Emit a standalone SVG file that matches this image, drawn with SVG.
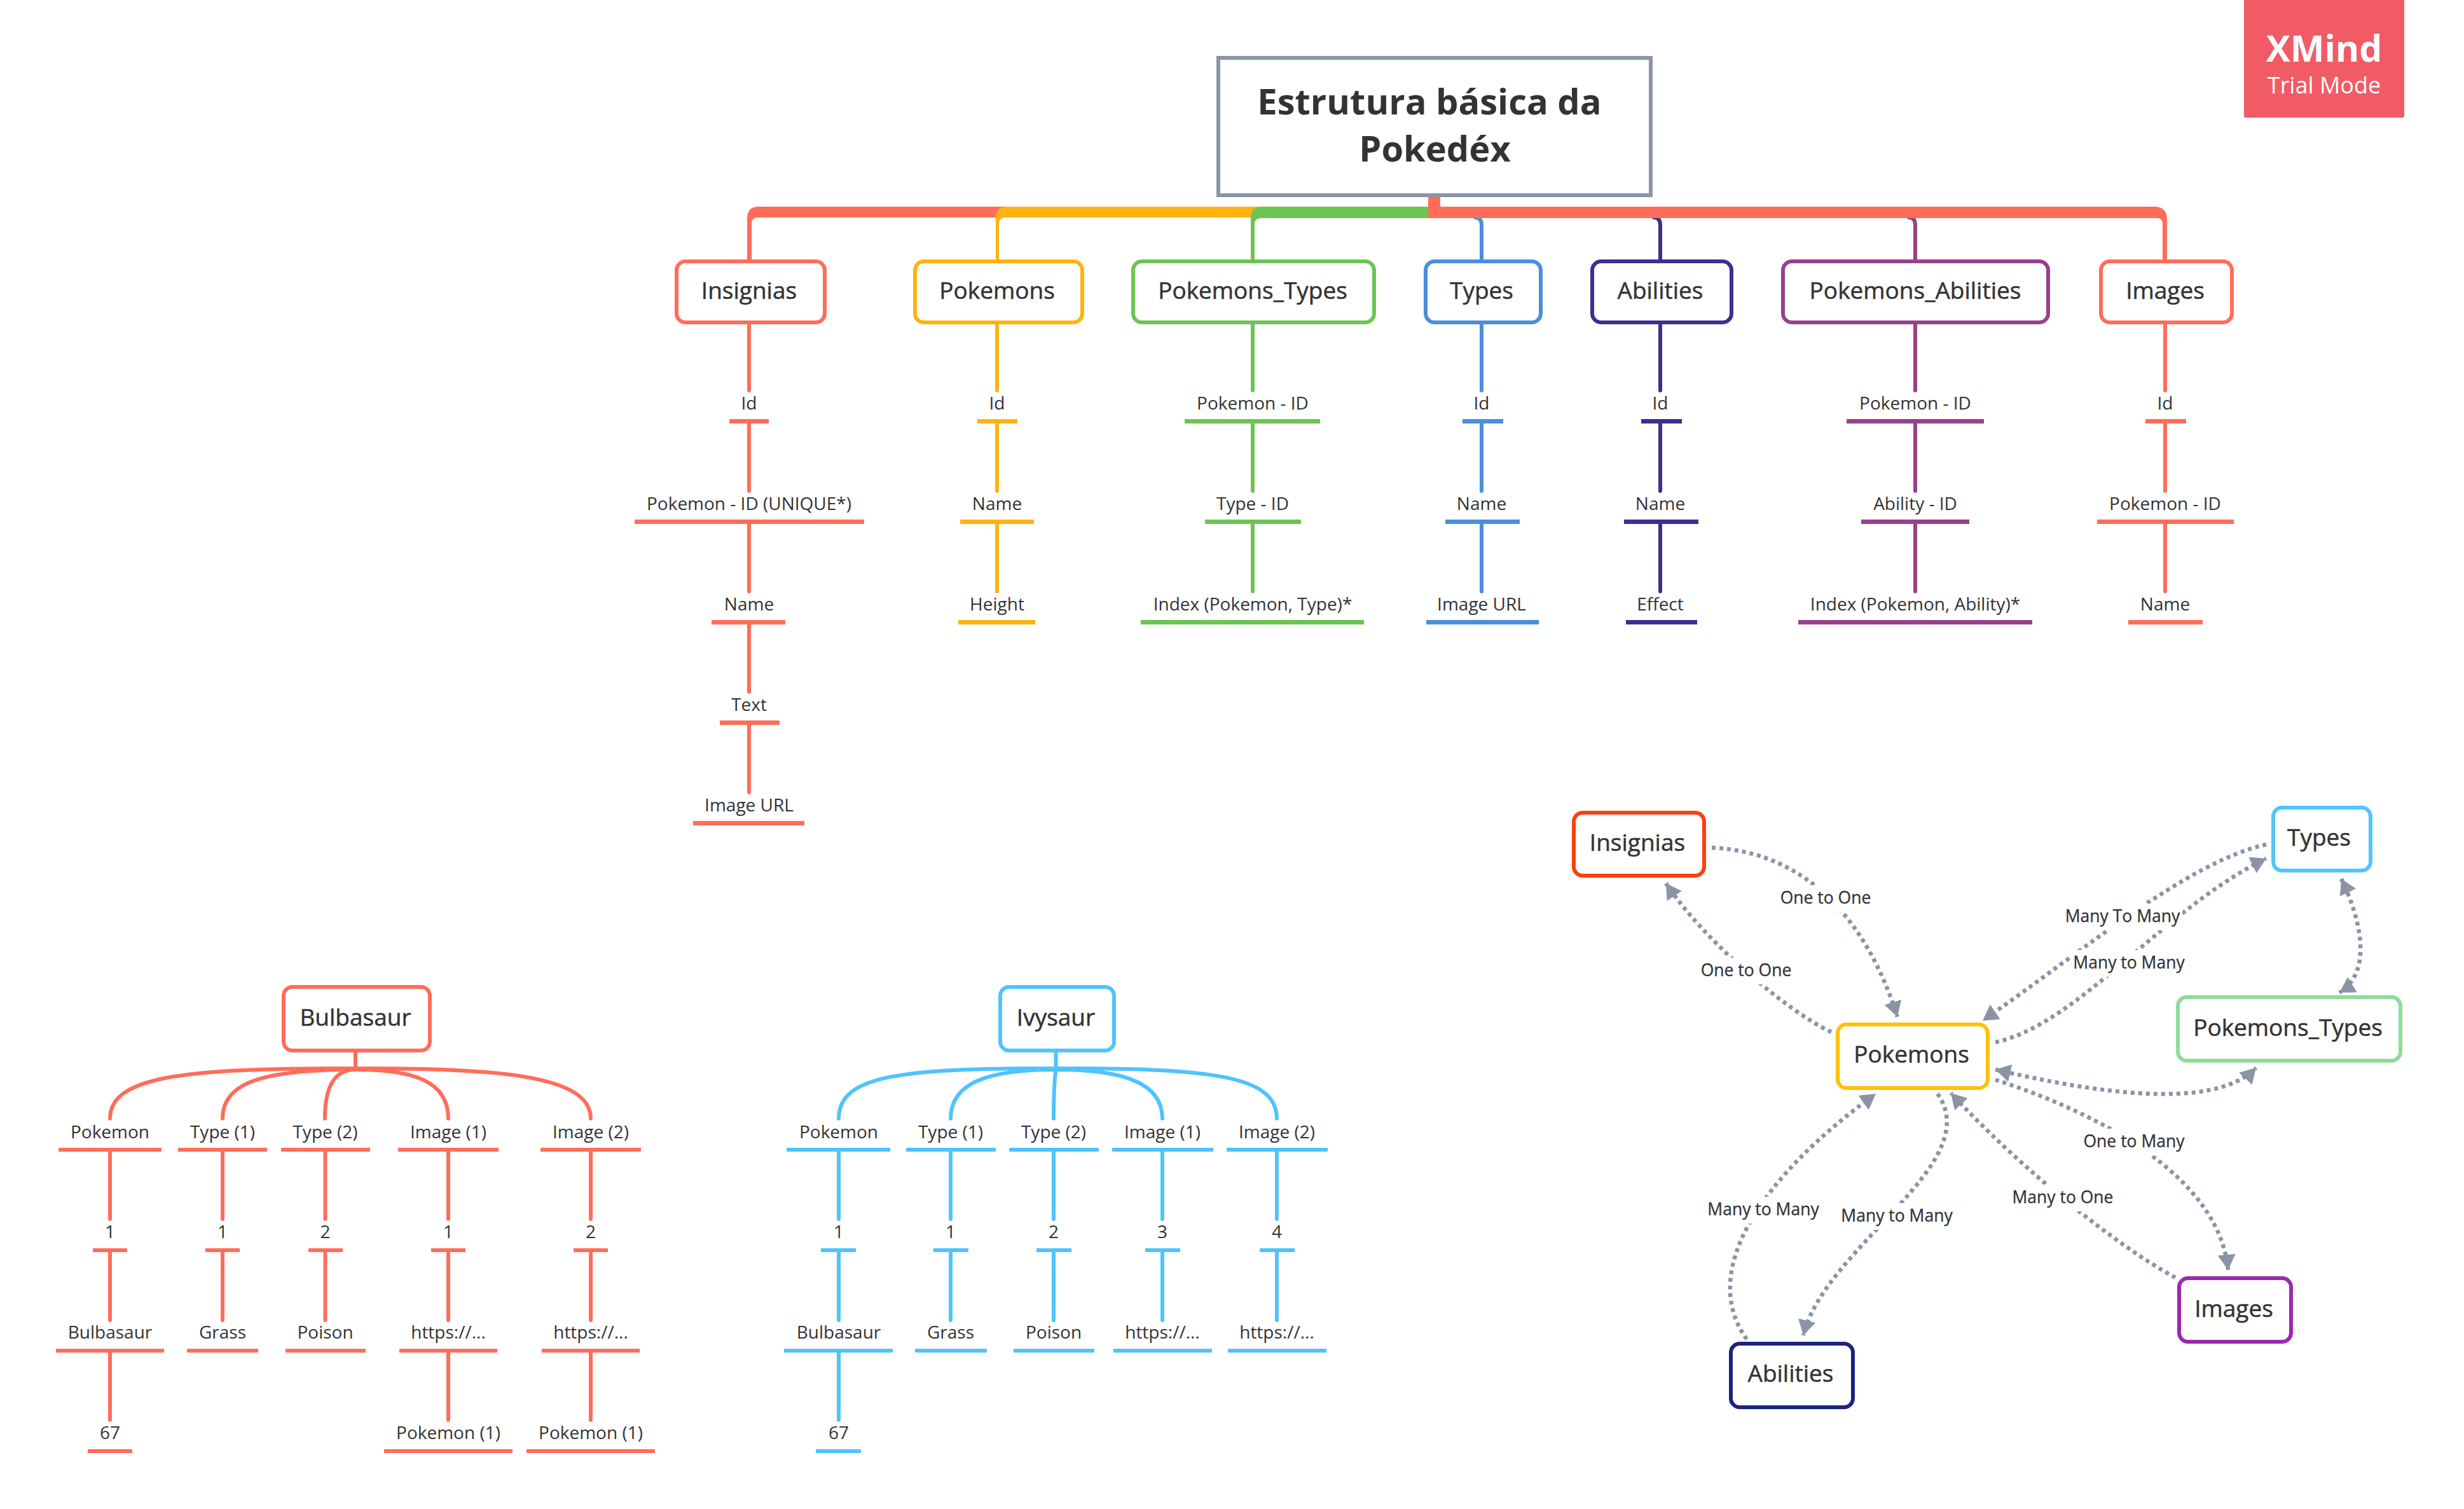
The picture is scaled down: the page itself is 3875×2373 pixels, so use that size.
<svg xmlns="http://www.w3.org/2000/svg" width="3875" height="2373" viewBox="0 0 3875 2373">
<style>
text{font-family:"Open Sans","Noto Sans","Liberation Sans",sans-serif;fill:#333;text-anchor:middle}
.t{font-size:37px;stroke:#333;stroke-width:.5px}
.l{font-size:28px}
.e{font-size:26.500px;stroke:#333;stroke-width:.3px}
.box{fill:#fff;stroke-width:6}
.v{fill:none;stroke-width:6;stroke-linecap:round}
.rel{fill:none;stroke:#8a94a6;stroke-width:6.500;stroke-dasharray:6 6}
.mask{fill:#fff}
.red{stroke:#ff6d5a}.fred{fill:#ff6d5a}
.org{stroke:#ffb30f}.forg{fill:#ffb30f}
.grn{stroke:#6cc551}.fgrn{fill:#6cc551}
.blu{stroke:#4a8fdb}.fblu{fill:#4a8fdb}
.nav{stroke:#3f2e91}.fnav{fill:#3f2e91}
.pur{stroke:#96418c}.fpur{fill:#96418c}
.sky{stroke:#4fc3fc}.fsky{fill:#4fc3fc}
</style>
<defs>
<marker id="arr" markerUnits="userSpaceOnUse" markerWidth="26" markerHeight="30" refX="24" refY="14" orient="auto-start-reverse"><path d="M0 0L24 14L0 28Z" fill="#8a94a6"/></marker>
</defs>

<g id="connectors">
<path class="fred" d="M1175 408V344Q1175 325 1192 325H1600V342H1192Q1182 342 1182 352V408Z"/>
<path class="forg" d="M1566 408V344Q1566 325 1583 325H1990V342H1581Q1571 342 1571 352V408Z"/>
<path class="fgrn" d="M1967 408V344Q1967 325 1984 325H2256V343H1983Q1973 343 1973 353V408Z"/>
<path class="v blu" d="M2320 342Q2330 342 2330 354V408"/>
<path class="v nav" d="M2601 342Q2611 342 2611 354V408"/>
<path class="v pur" d="M3002 342Q3012 342 3012 354V408"/>
<path class="fred" d="M2246 310H2265V325H3388Q3408 325 3408 345V408H3401V352Q3401 343 3392 343H2246Z"/>
<path class="v red" d="M1178 510V614M1178 666V772M1178 824V930M1178 982V1088M1178 1140V1246"/>
<path class="v org" d="M1568 510V614M1568 666V772M1568 824V930"/>
<path class="v grn" d="M1970 510V614M1970 666V772M1970 824V930"/>
<path class="v blu" d="M2330 510V614M2330 666V772M2330 824V930"/>
<path class="v nav" d="M2611 510V614M2611 666V772M2611 824V930"/>
<path class="v pur" d="M3012 510V614M3012 666V772M3012 824V930"/>
<path class="v red" d="M3405 510V614M3405 666V772M3405 824V930"/>
<path class="v red" d="M559 1655V1680M559 1680C300 1680 173 1690 173 1759M559 1682C420 1682 350 1700 350 1759M559 1682C525 1682 511 1710 511 1759M559 1682C650 1682 705 1700 705 1759M559 1680C780 1680 929 1690 929 1759"/>
<path class="v red" d="M173 1810V1917M173 1968V2076M173 2126V2233M350 1810V1917M350 1968V2076M511.500 1810V1917M511.500 1968V2076M705 1810V1917M705 1968V2076M705 2126V2233M929 1810V1917M929 1968V2076M929 2126V2233"/>
<path class="v sky" d="M1660.500 1655V1680M1660.500 1680C1420 1680 1319 1690 1319 1759M1660.500 1682C1560 1682 1495 1700 1495 1759M1660.500 1682C1658 1700 1657 1730 1657 1759M1660.500 1682C1760 1682 1828 1700 1828 1759M1660.500 1680C1900 1680 2008 1690 2008 1759"/>
<path class="v sky" d="M1319 1810V1917M1319 1968V2076M1319 2126V2233M1495 1810V1917M1495 1968V2076M1657 1810V1917M1657 1968V2076M1828 1810V1917M1828 1968V2076M2008 1810V1917M2008 1968V2076"/>
<path class="rel" marker-end="url(#arr)" d="M2692 1333C2850 1340 2940 1460 2984 1599"/>
<path class="rel" marker-end="url(#arr)" d="M2880 1623C2810 1590 2680 1480 2620 1389"/>
<path class="rel" marker-end="url(#arr)" d="M3564 1328C3440 1355 3270 1500 3118 1605"/>
<path class="rel" marker-end="url(#arr)" d="M3138 1639C3270 1610 3400 1430 3564 1350"/>
<path class="rel" marker-start="url(#arr)" marker-end="url(#arr)" d="M3682 1382C3715 1450 3730 1530 3679 1561"/>
<path class="rel" marker-start="url(#arr)" marker-end="url(#arr)" d="M3138 1682C3280 1715 3480 1750 3548 1679"/>
<path class="rel" marker-end="url(#arr)" d="M3138 1698C3300 1750 3490 1850 3504 1997"/>
<path class="rel" marker-end="url(#arr)" d="M3421 2009C3330 1960 3180 1840 3068 1719"/>
<path class="rel" marker-end="url(#arr)" d="M3047 1720C3125 1830 2870 1960 2836 2100"/>
<path class="rel" marker-end="url(#arr)" d="M2747 2106C2670 2000 2770 1850 2950 1720"/>
</g>

<g id="edge-labels">
<rect class="mask" x="2791" y="1392" width="160" height="42"/><text class="e" x="2871" y="1421">One to One</text>
<rect class="mask" x="2666" y="1506" width="160" height="42"/><text class="e" x="2746" y="1535">One to One</text>
<rect class="mask" x="3244" y="1421" width="188" height="42"/><text class="e" x="3338" y="1450">Many To Many</text>
<rect class="mask" x="3257" y="1494" width="182" height="42"/><text class="e" x="3348" y="1523">Many to Many</text>
<rect class="mask" x="3274" y="1775" width="164" height="42"/><text class="e" x="3356" y="1804">One to Many</text>
<rect class="mask" x="3162" y="1863" width="164" height="42"/><text class="e" x="3244" y="1892">Many to One</text>
<rect class="mask" x="2682" y="1882" width="182" height="42"/><text class="e" x="2773" y="1911">Many to Many</text>
<rect class="mask" x="2892" y="1892" width="182" height="42"/><text class="e" x="2983" y="1921">Many to Many</text>
</g>

<g id="root"><rect x="1916" y="91" width="680" height="216" fill="#fff" stroke="#8a94a6" stroke-width="6"/>
<text x="2248" y="180" font-size="56" font-weight="700">Estrutura básica da</text><text x="2256.500" y="254" font-size="56" font-weight="700">Pokedéx</text></g>

<g id="badge"><rect x="3529" y="-6" width="252" height="191" rx="3" fill="#f15b66"/>
<text x="3655" y="97" font-size="57" font-weight="700" style="fill:#fff">XMind</text><text x="3655" y="147" font-size="36" style="fill:#fff">Trial Mode</text></g>

<g id="t-insignias"><rect class="box red" x="1064" y="411" width="233" height="96" rx="14"/><text class="t" x="1178" y="470">Insignias</text></g>
<g id="t-pokemons"><rect class="box org" x="1439" y="411" width="263" height="96" rx="14"/><text class="t" x="1568" y="470">Pokemons</text></g>
<g id="t-pokemons-types"><rect class="box grn" x="1782" y="411" width="379" height="96" rx="14"/><text class="t" x="1970" y="470">Pokemons_Types</text></g>
<g id="t-types"><rect class="box blu" x="2242" y="411" width="181" height="96" rx="14"/><text class="t" x="2330" y="470">Types</text></g>
<g id="t-abilities"><rect class="box nav" x="2504" y="411" width="219" height="96" rx="14"/><text class="t" x="2611" y="470">Abilities</text></g>
<g id="t-pokemons-abilities"><rect class="box pur" x="2804" y="411" width="417" height="96" rx="14"/><text class="t" x="3012" y="470">Pokemons_Abilities</text></g>
<g id="t-images"><rect class="box red" x="3304" y="411" width="206" height="96" rx="14"/><text class="t" x="3405" y="470">Images</text></g>

<g id="insignias-fields">
<g id="i1"><text class="l" x="1178" y="644">Id</text><rect class="fred" x="1147" y="659" width="62" height="7"/></g>
<g id="i2"><text class="l" x="1178" y="802">Pokemon - ID (UNIQUE*)</text><rect class="fred" x="998" y="817" width="361" height="7"/></g>
<g id="i3"><text class="l" x="1178" y="960">Name</text><rect class="fred" x="1119" y="975" width="116" height="7"/></g>
<g id="i4"><text class="l" x="1178" y="1118">Text</text><rect class="fred" x="1132" y="1133" width="94" height="7"/></g>
<g id="i5"><text class="l" x="1178" y="1276">Image URL</text><rect class="fred" x="1090" y="1291" width="175" height="7"/></g>
</g>
<g id="pokemons-fields">
<g id="p1"><text class="l" x="1568" y="644">Id</text><rect class="forg" x="1537" y="659" width="63" height="7"/></g>
<g id="p2"><text class="l" x="1568" y="802">Name</text><rect class="forg" x="1510" y="817" width="116" height="7"/></g>
<g id="p3"><text class="l" x="1568" y="960">Height</text><rect class="forg" x="1507" y="975" width="121" height="7"/></g>
</g>
<g id="ptypes-fields">
<g id="pt1"><text class="l" x="1970" y="644">Pokemon - ID</text><rect class="fgrn" x="1863" y="659" width="213" height="7"/></g>
<g id="pt2"><text class="l" x="1970" y="802">Type - ID</text><rect class="fgrn" x="1895" y="817" width="151" height="7"/></g>
<g id="pt3"><text class="l" x="1970" y="960">Index (Pokemon, Type)*</text><rect class="fgrn" x="1794" y="975" width="351" height="7"/></g>
</g>
<g id="types-fields">
<g id="ty1"><text class="l" x="2330" y="644">Id</text><rect class="fblu" x="2300" y="659" width="64" height="7"/></g>
<g id="ty2"><text class="l" x="2330" y="802">Name</text><rect class="fblu" x="2273" y="817" width="117" height="7"/></g>
<g id="ty3"><text class="l" x="2330" y="960">Image URL</text><rect class="fblu" x="2243" y="975" width="177" height="7"/></g>
</g>
<g id="abilities-fields">
<g id="ab1"><text class="l" x="2611" y="644">Id</text><rect class="fnav" x="2581" y="659" width="64" height="7"/></g>
<g id="ab2"><text class="l" x="2611" y="802">Name</text><rect class="fnav" x="2554" y="817" width="117" height="7"/></g>
<g id="ab3"><text class="l" x="2611" y="960">Effect</text><rect class="fnav" x="2557" y="975" width="112" height="7"/></g>
</g>
<g id="pabilities-fields">
<g id="pa1"><text class="l" x="3012" y="644">Pokemon - ID</text><rect class="fpur" x="2904" y="659" width="216" height="7"/></g>
<g id="pa2"><text class="l" x="3012" y="802">Ability - ID</text><rect class="fpur" x="2927" y="817" width="170" height="7"/></g>
<g id="pa3"><text class="l" x="3012" y="960">Index (Pokemon, Ability)*</text><rect class="fpur" x="2828" y="975" width="368" height="7"/></g>
</g>
<g id="images-fields">
<g id="im1"><text class="l" x="3405" y="644">Id</text><rect class="fred" x="3374" y="659" width="64" height="7"/></g>
<g id="im2"><text class="l" x="3405" y="802">Pokemon - ID</text><rect class="fred" x="3298" y="817" width="215" height="7"/></g>
<g id="im3"><text class="l" x="3405" y="960">Name</text><rect class="fred" x="3347" y="975" width="117" height="7"/></g>
</g>

<g id="bulbasaur"><rect class="box red" x="446" y="1552" width="230" height="100" rx="14"/><text class="t" x="559" y="1613">Bulbasaur</text></g>
<g id="bulbasaur-fields">
<g id="b1"><text class="l" x="173" y="1790">Pokemon</text><rect class="fred" x="92" y="1805" width="162" height="6"/></g>
<g id="b2"><text class="l" x="350" y="1790">Type (1)</text><rect class="fred" x="280" y="1805" width="140" height="6"/></g>
<g id="b3"><text class="l" x="511.500" y="1790">Type (2)</text><rect class="fred" x="442" y="1805" width="140" height="6"/></g>
<g id="b4"><text class="l" x="705" y="1790">Image (1)</text><rect class="fred" x="626" y="1805" width="158" height="6"/></g>
<g id="b5"><text class="l" x="929" y="1790">Image (2)</text><rect class="fred" x="850" y="1805" width="158" height="6"/></g>
<g id="b6"><text class="l" x="173" y="1947">1</text><rect class="fred" x="146" y="1963" width="54" height="6"/></g>
<g id="b7"><text class="l" x="350" y="1947">1</text><rect class="fred" x="323" y="1963" width="54" height="6"/></g>
<g id="b8"><text class="l" x="511.500" y="1947">2</text><rect class="fred" x="485" y="1963" width="54" height="6"/></g>
<g id="b9"><text class="l" x="705" y="1947">1</text><rect class="fred" x="678" y="1963" width="54" height="6"/></g>
<g id="b10"><text class="l" x="929" y="1947">2</text><rect class="fred" x="902" y="1963" width="54" height="6"/></g>
<g id="b11"><text class="l" x="173" y="2105">Bulbasaur</text><rect class="fred" x="88" y="2121" width="170" height="6"/></g>
<g id="b12"><text class="l" x="350" y="2105">Grass</text><rect class="fred" x="294" y="2121" width="112" height="6"/></g>
<g id="b13"><text class="l" x="511.500" y="2105">Poison</text><rect class="fred" x="449" y="2121" width="126" height="6"/></g>
<g id="b14"><text class="l" x="705" y="2105">https://...</text><rect class="fred" x="628" y="2121" width="154" height="6"/></g>
<g id="b15"><text class="l" x="929" y="2105">https://...</text><rect class="fred" x="852" y="2121" width="154" height="6"/></g>
<g id="b16"><text class="l" x="173" y="2263">67</text><rect class="fred" x="138" y="2279" width="70" height="6"/></g>
<g id="b17"><text class="l" x="705" y="2263">Pokemon (1)</text><rect class="fred" x="604" y="2279" width="202" height="6"/></g>
<g id="b18"><text class="l" x="929" y="2263">Pokemon (1)</text><rect class="fred" x="828" y="2279" width="202" height="6"/></g>
</g>

<g id="ivysaur"><rect class="box sky" x="1573" y="1552" width="179" height="100" rx="14"/><text class="t" x="1660.500" y="1613">Ivysaur</text></g>
<g id="ivysaur-fields">
<g id="v1"><text class="l" x="1319" y="1790">Pokemon</text><rect class="fsky" x="1237" y="1805" width="163" height="6"/></g>
<g id="v2"><text class="l" x="1495" y="1790">Type (1)</text><rect class="fsky" x="1425" y="1805" width="141" height="6"/></g>
<g id="v3"><text class="l" x="1657" y="1790">Type (2)</text><rect class="fsky" x="1587" y="1805" width="141" height="6"/></g>
<g id="v4"><text class="l" x="1828" y="1790">Image (1)</text><rect class="fsky" x="1749" y="1805" width="159" height="6"/></g>
<g id="v5"><text class="l" x="2008" y="1790">Image (2)</text><rect class="fsky" x="1929" y="1805" width="159" height="6"/></g>
<g id="v6"><text class="l" x="1319" y="1947">1</text><rect class="fsky" x="1291" y="1963" width="55" height="6"/></g>
<g id="v7"><text class="l" x="1495" y="1947">1</text><rect class="fsky" x="1468" y="1963" width="55" height="6"/></g>
<g id="v8"><text class="l" x="1657" y="1947">2</text><rect class="fsky" x="1630" y="1963" width="55" height="6"/></g>
<g id="v9"><text class="l" x="1828" y="1947">3</text><rect class="fsky" x="1801" y="1963" width="55" height="6"/></g>
<g id="v10"><text class="l" x="2008" y="1947">4</text><rect class="fsky" x="1981" y="1963" width="55" height="6"/></g>
<g id="v11"><text class="l" x="1319" y="2105">Bulbasaur</text><rect class="fsky" x="1233" y="2121" width="171" height="6"/></g>
<g id="v12"><text class="l" x="1495" y="2105">Grass</text><rect class="fsky" x="1439" y="2121" width="113" height="6"/></g>
<g id="v13"><text class="l" x="1657" y="2105">Poison</text><rect class="fsky" x="1594" y="2121" width="127" height="6"/></g>
<g id="v14"><text class="l" x="1828" y="2105">https://...</text><rect class="fsky" x="1751" y="2121" width="155" height="6"/></g>
<g id="v15"><text class="l" x="2008" y="2105">https://...</text><rect class="fsky" x="1931" y="2121" width="155" height="6"/></g>
<g id="v16"><text class="l" x="1319" y="2263">67</text><rect class="fsky" x="1283" y="2279" width="71" height="6"/></g>
</g>

<g id="r-insignias"><rect class="box" stroke="#ff3f0f" x="2475" y="1278" width="205" height="99" rx="14"/><text class="t" x="2575" y="1338">Insignias</text></g>
<g id="r-types"><rect class="box" stroke="#50c5ff" x="3575" y="1270" width="153" height="99" rx="14"/><text class="t" x="3647" y="1330">Types</text></g>
<g id="r-pokemons-types"><rect class="box" stroke="#8edc9a" x="3425" y="1568" width="350" height="100" rx="14"/><text class="t" x="3598" y="1629">Pokemons_Types</text></g>
<g id="r-pokemons"><rect class="box" stroke="#ffc107" x="2890" y="1611" width="236" height="100" rx="14"/><text class="t" x="3006" y="1671">Pokemons</text></g>
<g id="r-images"><rect class="box" stroke="#9c27b0" x="3427" y="2010" width="176" height="100" rx="14"/><text class="t" x="3513" y="2071">Images</text></g>
<g id="r-abilities"><rect class="box" stroke="#1a237e" x="2722" y="2113" width="192" height="100" rx="14"/><text class="t" x="2816" y="2173">Abilities</text></g>
</svg>
